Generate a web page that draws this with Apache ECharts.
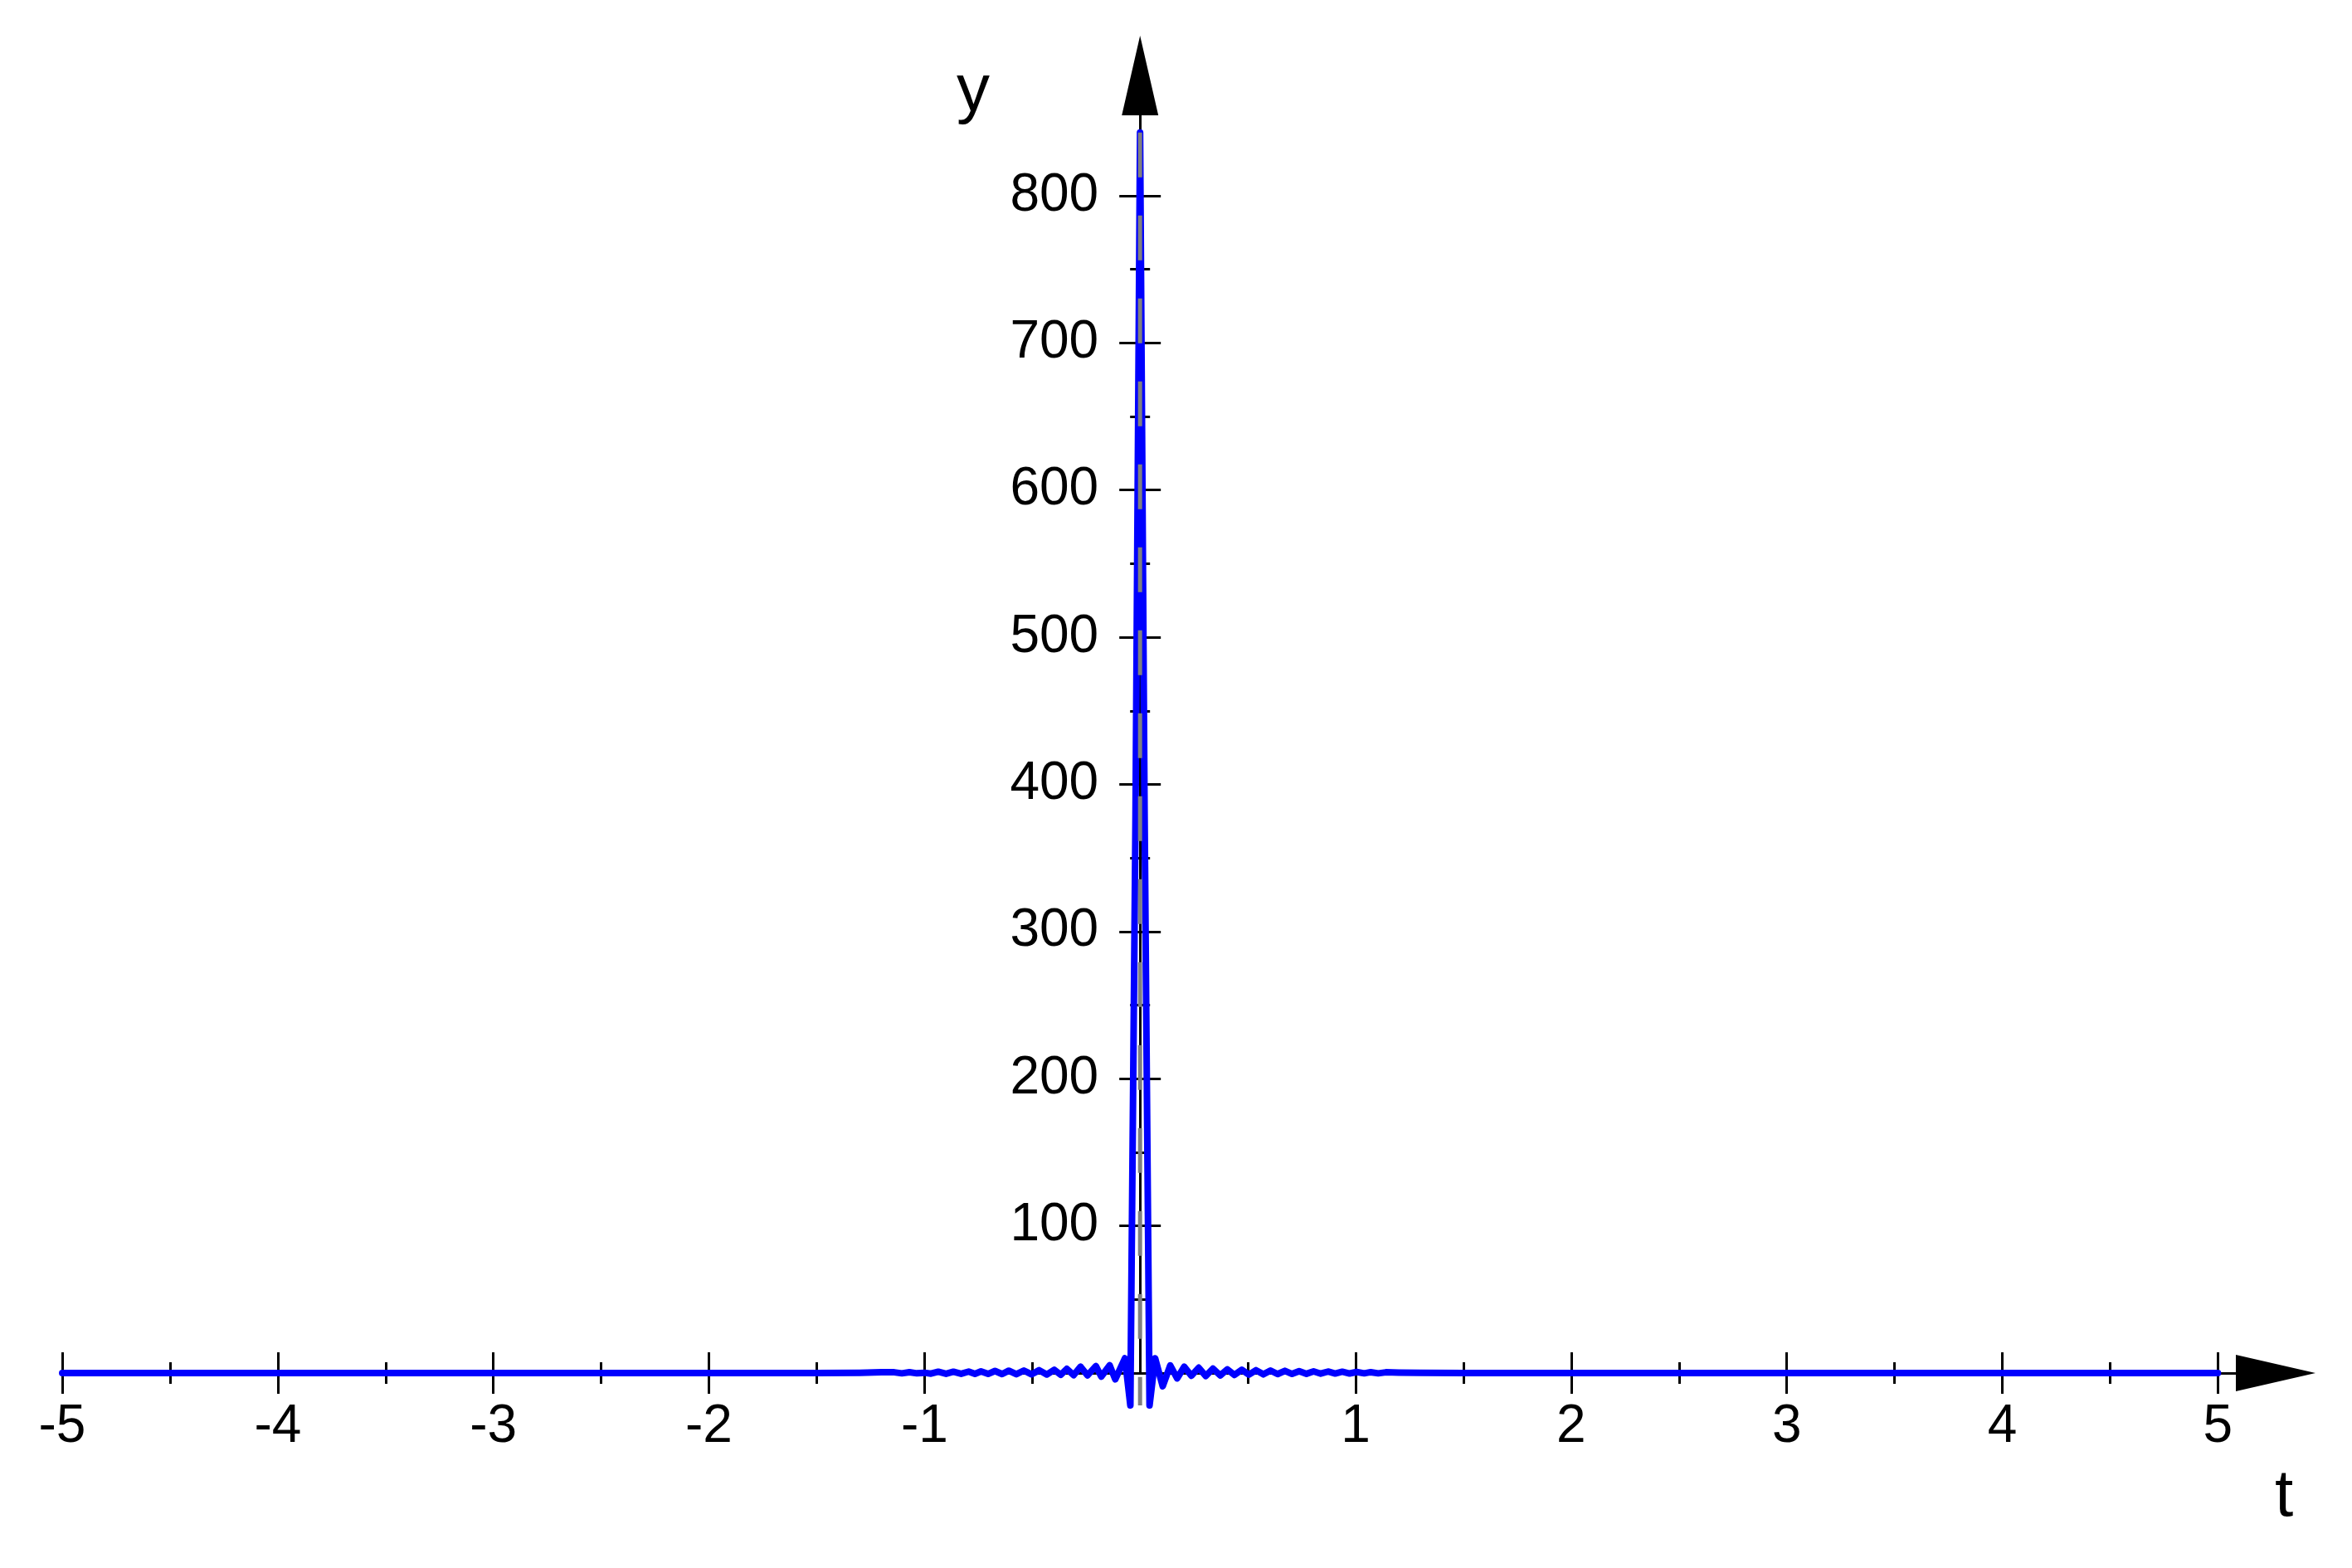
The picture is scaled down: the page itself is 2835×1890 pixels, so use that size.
<!DOCTYPE html>
<html>
<head>
<meta charset="utf-8">
<script src="https://cdn.jsdelivr.net/npm/echarts@6/dist/echarts.min.js"></script>
<style>
html,body{margin:0;padding:0;background:#ffffff;}
#chart{width:2835px;height:1890px;}
</style>
</head>
<body>
<div id="chart"></div>
<script>
// ---- data ----
const tValues = [
  -5, -4.5, -4, -3.5, -3, -2.5, -2, -1.5, -1.3, -1.2, -1.14, -1.105, -1.07, -1.035,
  -1.0, -0.97, -0.936, -0.9, -0.866, -0.83, -0.795, -0.766, -0.738, -0.705, -0.673, -0.64,
  -0.609, -0.574, -0.539, -0.503, -0.468, -0.433, -0.398, -0.368, -0.34, -0.308, -0.276,
  -0.244, -0.205, -0.18, -0.141, -0.115, -0.07, -0.045, -0.021,
  0,
  0.021, 0.044, 0.07, 0.105, 0.14, 0.172, 0.205, 0.238, 0.272, 0.305, 0.338, 0.372, 0.405,
  0.438, 0.472, 0.505, 0.538, 0.572, 0.605, 0.638, 0.672, 0.705, 0.738, 0.772, 0.805,
  0.838, 0.872, 0.905, 0.938, 0.972, 1.005, 1.04, 1.07, 1.105, 1.14, 1.2, 1.3,
  1.5, 2, 2.5, 3, 3.5, 4, 4.5, 5
];
const yValues = [
  0, 0, 0, 0, 0, 0, 0, 0, 0.2, 0.5, 0.5, -0.2, 0.6, -0.2,
  0.2, -0.4, 0.9, -0.5, 0.9, -0.5, 1.0, -0.6, 1.1, -0.6, 1.4, -0.7,
  1.6, -0.8, 1.7, -0.9, 1.9, -1.0, 2.2, -1.2, 2.8, -1.4, 4.3,
  -1.6, 4.7, -2.4, 5.2, -4.3, 10, -22, 380,
  843,
  380, -22, 10, -9, 5.2, -3.6, 4.3, -1.8, 3.6, -2.0, 3.0, -1.6, 2.5,
  -1.3, 2.2, -1.1, 1.9, -0.9, 1.7, -0.7, 1.5, -0.6, 1.3, -0.5, 1.1,
  -0.4, 1.0, -0.3, 0.9, -0.3, 0.7, -0.2, 0.6, -0.2, 0.5, 0.3, 0.2,
  0, 0, 0, 0, 0, 0, 0, 0
];
// vertical dashed guide at t = 0 (drawn from top to bottom)
const guideT = [0, 0];
const guideY = [843, -22];

// tick / label values
const xLabelValues = [-5, -4, -3, -2, -1, 1, 2, 3, 4, 5];
const xMinorValues = [-4.5, -3.5, -2.5, -1.5, -0.5, 0.5, 1.5, 2.5, 3.5, 4.5];
const yLabelValues = [100, 200, 300, 400, 500, 600, 700, 800];
const yMinorValues = [50, 150, 250, 350, 450, 550, 650, 750];

// ---- chart ----
const FONT = '"Liberation Sans", Arial, Helvetica, sans-serif';
const X_MIN = -5, X_MAX = 5.268;
const Y_MIN = 0, Y_MAX = 881.7;
const GRID_LEFT = 75, GRID_RIGHT = 92;
const GRID_W = 2835 - GRID_LEFT - GRID_RIGHT;
// the vertical axis sits at t = 0: shift it from the grid's left edge
const Y_AXIS_SHIFT = -(0 - X_MIN) / (X_MAX - X_MIN) * GRID_W;

function xTickAxis(values, len, inside) {
  return {
    type: 'value', min: X_MIN, max: X_MAX, position: 'bottom',
    axisLine: {show: false, onZero: false},
    splitLine: {show: false},
    axisLabel: {show: false},
    axisTick: {show: true, inside: inside, length: len, customValues: values,
               lineStyle: {color: '#000', width: 3}}
  };
}
function yTickAxis(values, len, inside) {
  return {
    type: 'value', min: Y_MIN, max: Y_MAX, position: 'left', offset: Y_AXIS_SHIFT,
    axisLine: {show: false, onZero: false},
    splitLine: {show: false},
    axisLabel: {show: false},
    axisTick: {show: true, inside: inside, length: len, customValues: values,
               lineStyle: {color: '#000', width: 3}}
  };
}

const chart = echarts.init(document.getElementById('chart'), null,
  {renderer: 'canvas', width: 2835, height: 1890});

const option = {
  animation: false,
  backgroundColor: '#ffffff',
  grid: {left: GRID_LEFT, right: GRID_RIGHT, top: 91, bottom: 235,
         containLabel: false, outerBoundsMode: 'none'},
  xAxis: [
    {
      type: 'value', min: X_MIN, max: X_MAX, position: 'bottom',
      axisLine: {show: true, onZero: false,
                 symbol: ['none', 'triangle'], symbolSize: [44, 96],
                 lineStyle: {color: '#000', width: 3}},
      splitLine: {show: false},
      axisTick: {show: false},
      axisLabel: {show: true, customValues: xLabelValues, margin: 33,
                  color: '#000', fontSize: 64, fontFamily: FONT}
    },
    xTickAxis(xLabelValues, 25, false),
    xTickAxis(xLabelValues, 25, true),
    xTickAxis(xMinorValues, 13, false),
    xTickAxis(xMinorValues, 13, true)
  ],
  yAxis: [
    {
      type: 'value', min: Y_MIN, max: Y_MAX, position: 'left', offset: Y_AXIS_SHIFT,
      axisLine: {show: true, onZero: false,
                 symbol: ['none', 'triangle'], symbolSize: [44, 96],
                 lineStyle: {color: '#000', width: 3}},
      splitLine: {show: false},
      axisTick: {show: false},
      axisLabel: {show: true, customValues: yLabelValues, margin: 50,
                  color: '#000', fontSize: 64, fontFamily: FONT}
    },
    yTickAxis(yLabelValues, 25, false),
    yTickAxis(yLabelValues, 25, true),
    yTickAxis(yMinorValues, 12, false),
    yTickAxis(yMinorValues, 12, true)
  ],
  graphic: [
    {type: 'text', x: 1173, y: 111, silent: true,
     style: {text: 'y', fill: '#000', font: '80px ' + FONT, align: 'center', verticalAlign: 'middle'}},
    {type: 'text', x: 2753, y: 1805, silent: true,
     style: {text: 't', fill: '#000', font: '80px ' + FONT, align: 'center', verticalAlign: 'middle'}}
  ],
  series: [
    {
      type: 'line', xAxisIndex: 0, yAxisIndex: 0,
      data: tValues.map((t, i) => [t, yValues[i]]),
      showSymbol: false, symbol: 'none', clip: false, silent: true, z: 3,
      lineStyle: {color: '#0000ff', width: 8, join: 'round', cap: 'round'}
    },
    {
      type: 'line', xAxisIndex: 0, yAxisIndex: 0,
      data: guideT.map((t, i) => [t, guideY[i]]),
      showSymbol: false, symbol: 'none', clip: false, silent: true, z: 4,
      lineStyle: {color: '#808080', width: 5, type: [54, 46], cap: 'butt'}
    }
  ]
};
chart.setOption(option);
</script>
</body>
</html>
